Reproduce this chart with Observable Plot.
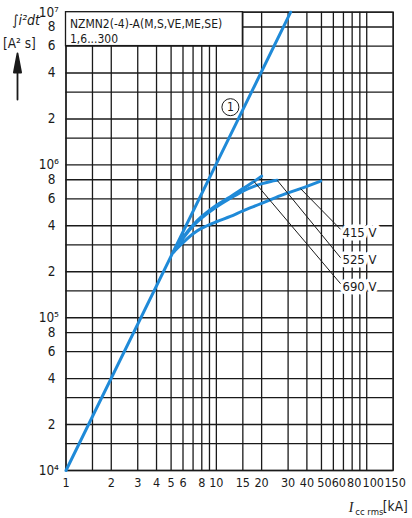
<!DOCTYPE html>
<html>
<head>
<meta charset="utf-8">
<script src="https://cdn.jsdelivr.net/npm/d3@7"></script>
<script src="https://cdn.jsdelivr.net/npm/@observablehq/plot@0.6"></script>
<style>
  html, body { margin: 0; padding: 0; background: white; }
  #chart { width: 412px; height: 518px; }
</style>
</head>
<body>
<div id="chart"></div>
<script>
// ---- Data ----
const xGridLines = [1, 1.5, 2, 3, 4, 5, 6, 7, 8, 9, 10, 15, 20, 30, 40, 50, 60, 70, 80, 90, 100, 150];
const yGridLines = [1e4, 1.5e4, 2e4, 3e4, 4e4, 6e4, 8e4, 1e5, 1.5e5, 2e5, 3e5, 4e5, 6e5, 8e5,
                    1e6, 1.5e6, 2e6, 3e6, 4e6, 6e6, 8e6, 1e7];
const xTickValues = [1, 2, 3, 4, 5, 6, 8, 10, 15, 20, 30, 40, 50, 60, 80, 100, 150];
const xTickLabels = ["1", "2", "3", "4", "5", "6", "8", "10", "15", "20", "30", "40", "50", "60", "80", "100", "150"];
const yMinorTicks = [2e4, 4e4, 6e4, 8e4, 2e5, 4e5, 6e5, 8e5, 2e6, 4e6, 6e6, 8e6];
const yMinorLabels = ["2", "4", "6", "8", "2", "4", "6", "8", "2", "4", "6", "8"];
const yDecadeTicks = [1e4, 1e5, 1e6, 1e7];
const yDecadeLabels = ["10⁴", "10⁵", "10⁶", "10⁷"];

// Curve ① (prospective let-through)
const mainI = [1, 31.2];
const mainV = [1e4, 1e7];

// Limited curves per voltage
const c415I = [5.2, 6.2, 7, 8, 10, 12.4, 15, 20, 26.7, 36.3, 49.4];
const c415V = [2.7e5, 3.2e5, 3.55e5, 3.86e5, 4.25e5, 4.6e5, 5.0e5, 5.6e5, 6.3e5, 7.0e5, 7.85e5];
const c525I = [5.2, 6.2, 7, 8, 10, 12.4, 15, 17.8, 20.2, 23, 25.4];
const c525V = [2.7e5, 3.45e5, 3.98e5, 4.5e5, 5.3e5, 6.05e5, 6.75e5, 7.25e5, 7.55e5, 7.8e5, 7.93e5];
const c690I = [5.2, 6.2, 7, 8, 10, 12.4, 15, 17.8, 20];
const c690V = [2.7e5, 3.5e5, 4.05e5, 4.6e5, 5.45e5, 6.2e5, 7.0e5, 7.8e5, 8.45e5];

// Voltage labels and their leader lines
const voltLabels = ["415 V", "525 V", "690 V"];
const labelI = [69, 69, 69];
const labelV = [3.59e5, 2.41e5, 1.60e5];
const leaderFromI = [36.3, 25.4, 17.8];
const leaderFromV = [7.0e5, 7.93e5, 7.8e5];
const leaderToI = [67, 67, 67];
const leaderToV = [3.79e5, 2.47e5, 1.67e5];

// Legend box and curve marker
const boxI = [1, 15];
const boxV = [6e6, 1e7];
const boxLines = ["NZMN2(-4)-A(M,S,VE,ME,SE)", "1,6...300"];
const markerI = [12.4];
const markerV = [2.39e6];
const markerText = ["1"];

// ---- Layout (label nudges in pixels, as in the crowded reference axis) ----
const xLabelNudge = new Map([[50, 3], [60, 5.5], [80, 2], [100, 6.5], [150, 2]]);

// ---- Tables built from the arrays ----
const toRows = (I, V, s) => I.map((d, i) => ({I: d, V: V[i], s}));
const curves = [
  ...toRows(c415I, c415V, "415"),
  ...toRows(c525I, c525V, "525"),
  ...toRows(c690I, c690V, "690")
];
const mainRows = toRows(mainI, mainV, "1");
const labelRows = voltLabels.map((t, i) => ({t, I: labelI[i], V: labelV[i]}));
const leaderRows = voltLabels.map((t, i) => ({x1: leaderFromI[i], y1: leaderFromV[i], x2: leaderToI[i], y2: leaderToV[i]}));
const xTickRows = xTickValues.map((v, i) => ({v, t: xTickLabels[i]}));
const yMinorRows = yMinorTicks.map((v, i) => ({v, t: yMinorLabels[i]}));
const yDecadeRows = yDecadeTicks.map((v, i) => ({v, t: yDecadeLabels[i]}));
const markerRows = markerI.map((d, i) => ({I: d, V: markerV[i], t: markerText[i]}));

const narrow = "'Liberation Sans Narrow', 'DejaVu Sans Condensed', 'Liberation Sans', sans-serif";
const blue = "#1f8ad8";
const ink = "#1a1a1a";

const arrowShape = {
  draw(context, l, r) {
    const head = 19, hw = 3.6;
    context.moveTo(0, 0);
    context.lineTo(0, -l + head - 1);
    context.moveTo(0, -l);
    context.lineTo(-hw, -l + head);
    context.lineTo(hw, -l + head);
    context.closePath();
  }
};

const xTickMarks = xTickRows.map((r) =>
  Plot.text([r], {x: "v", text: "t", frameAnchor: "bottom", dy: 8, dx: xLabelNudge.get(r.v) || 0,
    lineAnchor: "top", fontSize: 12.5, fill: ink})
);

const chart = Plot.plot({
  width: 412,
  height: 518,
  marginLeft: 65.5,
  marginRight: 19.3,
  marginTop: 11.7,
  marginBottom: 48,
  style: {fontFamily: narrow, fontSize: "13px", color: ink, background: "white"},
  x: {type: "log", domain: [1, 150], axis: null},
  y: {type: "log", domain: [1e4, 1e7], axis: null},
  marks: [
    Plot.ruleX(xGridLines, {stroke: ink, strokeWidth: 1.3}),
    Plot.ruleY(yGridLines, {stroke: ink, strokeWidth: 1.3}),
    Plot.frame({stroke: ink, strokeWidth: 1.3}),
    // white legend box in the top-left corner
    Plot.rect([0], {x1: () => boxI[0], x2: () => boxI[1], y1: () => boxV[0], y2: () => boxV[1],
      fill: "white", stroke: ink, strokeWidth: 1.3}),
    Plot.text([boxLines[0]], {frameAnchor: "top-left", dx: 4, dy: 15.5, lineAnchor: "bottom",
      textAnchor: "start", fontSize: 12, fill: ink}),
    Plot.text([boxLines[1]], {frameAnchor: "top-left", dx: 4, dy: 30.5, lineAnchor: "bottom",
      textAnchor: "start", fontSize: 12, fill: ink}),
    // voltage labels with white background
    Plot.text(labelRows, {x: "I", y: "V", text: "t", textAnchor: "start", fontSize: 13,
      fill: ink, stroke: "white", strokeWidth: 7, paintOrder: "stroke"}),
    // curves
    Plot.line(mainRows, {x: "I", y: "V", stroke: blue, strokeWidth: 3}),
    Plot.line(curves, {x: "I", y: "V", z: "s", stroke: blue, strokeWidth: 3, curve: "catmull-rom"}),
    // leaders
    Plot.link(leaderRows, {x1: "x1", y1: "y1", x2: "x2", y2: "y2", stroke: ink, strokeWidth: 1}),
    // curve marker ①
    Plot.dot(markerRows, {x: "I", y: "V", r: 8.5, fill: "white", stroke: ink, strokeWidth: 1}),
    Plot.text(markerRows, {x: "I", y: "V", text: "t", fontSize: 12, fill: ink}),
    // tick labels
    ...xTickMarks,
    Plot.text(yMinorRows, {y: "v", text: "t", frameAnchor: "left", dx: -10.5, textAnchor: "end",
      fontSize: 13.5, fill: ink}),
    Plot.text(yDecadeRows, {y: "v", text: "t", frameAnchor: "left", dx: -7, textAnchor: "end",
      fontSize: 13.5, fill: ink}),
    // y-axis title
    Plot.text(["∫i²dt"], {frameAnchor: "top-left", dx: -54, dy: 13, lineAnchor: "bottom",
      textAnchor: "start", fontSize: 14, fontStyle: "italic", fill: ink}),
    Plot.text(["[A² s]"], {frameAnchor: "top-left", dx: -63, dy: 36, lineAnchor: "bottom",
      textAnchor: "start", fontSize: 13.5, fill: ink}),
    Plot.vector([0], {frameAnchor: "top-left", dx: -48.5, dy: 87.3, length: 46, rotate: 0,
      anchor: "start", shape: arrowShape, stroke: ink, fill: ink, strokeWidth: 1.8}),
    // x-axis title
    Plot.text(["I"], {frameAnchor: "bottom-right", dx: -44.5, dy: 41, lineAnchor: "bottom",
      textAnchor: "start", fontSize: 14, fontStyle: "italic", fontFamily: "'Liberation Serif', serif", fill: ink}),
    Plot.text(["cc rms"], {frameAnchor: "bottom-right", dx: -38, dy: 44, lineAnchor: "bottom",
      textAnchor: "start", fontSize: 9.5, fill: ink}),
    Plot.text(["[kA]"], {frameAnchor: "bottom-right", dx: 14.5, dy: 40, lineAnchor: "bottom",
      textAnchor: "end", fontSize: 13.5, fill: ink})
  ]
});
document.getElementById("chart").appendChild(chart);
</script>
</body>
</html>
